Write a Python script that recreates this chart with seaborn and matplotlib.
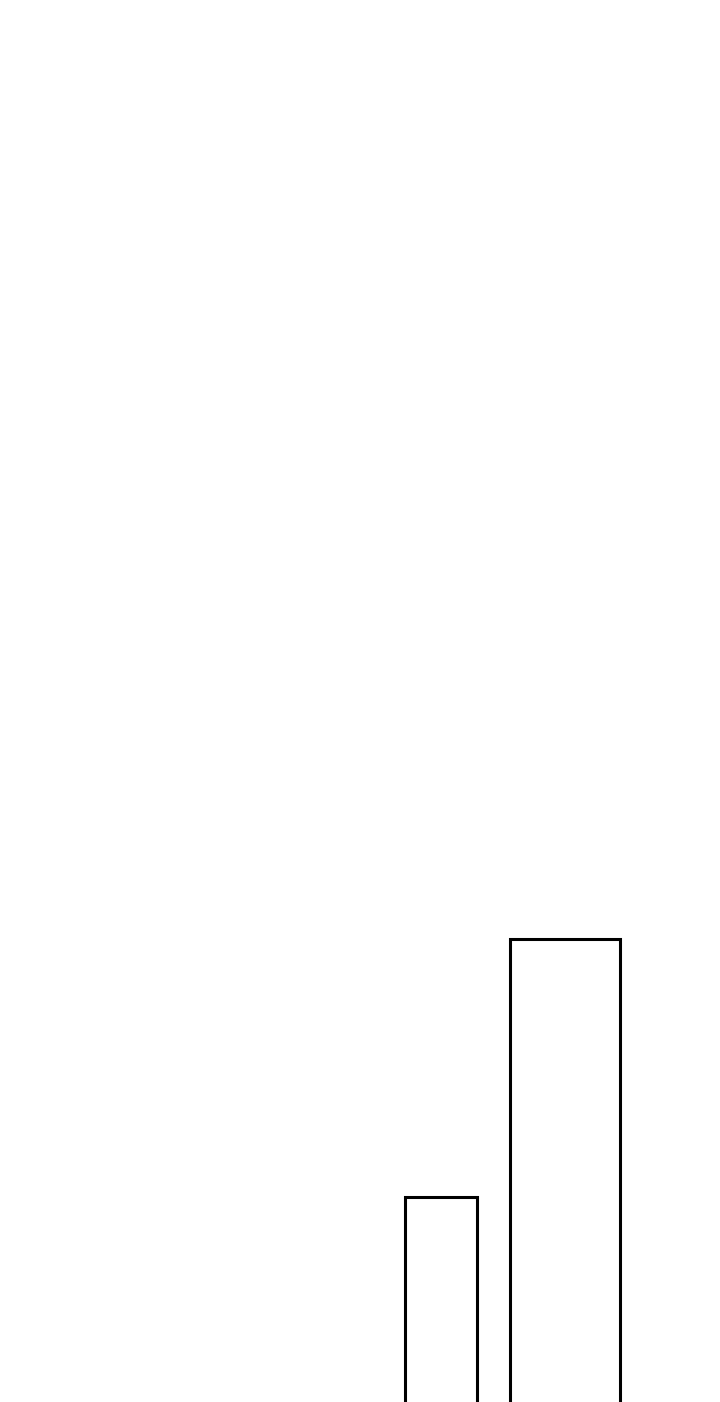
import matplotlib
matplotlib.use("Agg")
import matplotlib.pyplot as plt
import seaborn as sns
import pandas as pd

categories = ["A", "B"]
values = [2.24, 5.02]

sns.set_theme(style="white")
df = pd.DataFrame({"cat": categories, "val": values})

fig = plt.figure(figsize=(7.2, 14.02), dpi=100)
fig.patch.set_facecolor("white")
ax = fig.add_axes([0, 0, 1, 1])
ax.set_facecolor("white")

widths = [0.58, 0.89]
for i, c in enumerate(categories):
    sns.barplot(data=df[df["cat"] == c], x="cat", y="val", order=categories,
                width=widths[i], color="white", edgecolor="black",
                linewidth=2.2, ax=ax, err_kws={"linewidth": 0})

ax.set_xlim(-441 / 124, (720 - 441) / 124)
ax.set_ylim(0.04, 0.04 + 1402 / 93)
ax.set_axis_off()
fig.savefig("out.png", dpi=100, facecolor="white")
